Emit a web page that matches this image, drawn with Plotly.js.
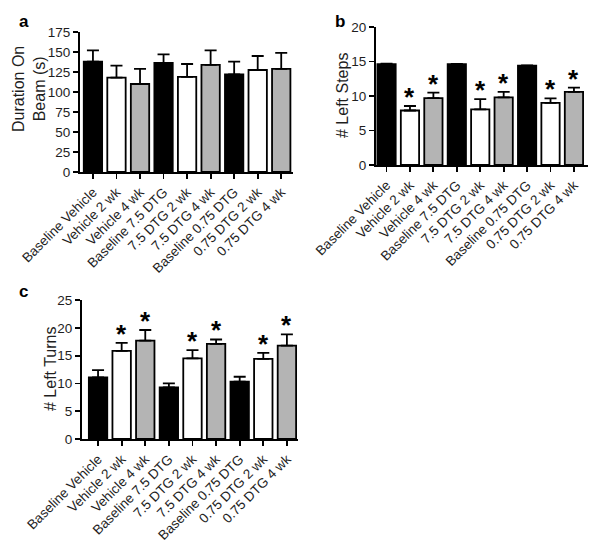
<!DOCTYPE html>
<html>
<head>
<meta charset="utf-8">
<script src="https://cdn.plot.ly/plotly-3.0.1.min.js"></script>
<style>html,body{margin:0;padding:0;background:#fff;}#chart{width:600px;height:545px;}</style>
</head>
<body>
<div id="chart"></div>
<script>
const categories = ["Baseline Vehicle","Vehicle 2 wk","Vehicle 4 wk","Baseline 7.5 DTG","7.5 DTG 2 wk","7.5 DTG 4 wk","Baseline 0.75 DTG","0.75 DTG 2 wk","0.75 DTG 4 wk"];
const durationValues = [138, 118, 110, 136.5, 119, 134, 122, 127.5, 129];
const durationErr    = [14, 15, 19, 10.5, 16, 18, 16, 17.5, 20];
const stepsValues = [14.6, 7.9, 9.7, 14.6, 8.05, 9.8, 14.4, 9.0, 10.6];
const stepsErr    = [0.1, 0.65, 0.8, 0.05, 1.5, 0.8, 0.05, 0.65, 0.6];
const stepsSig    = [0, 1, 1, 0, 1, 1, 0, 1, 1];
const turnsValues = [11.1, 15.85, 17.7, 9.3, 14.5, 17.1, 10.3, 14.4, 16.8];
const turnsErr    = [1.3, 1.45, 1.9, 0.7, 1.5, 0.8, 0.9, 1.1, 2.0];
const turnsSig    = [0, 1, 1, 0, 1, 1, 0, 1, 1];

const barColors = ["#000000","#ffffff","#b4b4b4","#000000","#ffffff","#b4b4b4","#000000","#ffffff","#b4b4b4"];
const FONT = "Liberation Sans, Arial, Helvetica, sans-serif";

function barTrace(vals, err, xa, ya) {
  return {
    type: "bar", x: categories, y: vals, xaxis: xa, yaxis: ya,
    width: 0.78,
    marker: {color: barColors, line: {color: "#000", width: 1.8}},
    error_y: {type: "data", symmetric: false, array: err, arrayminus: err.map(() => 0),
              color: "#000", thickness: 1.8, width: 6},
    hoverinfo: "skip", showlegend: false
  };
}

function xAxis(domain, range, anchor) {
  return {domain: domain, range: range, anchor: anchor, type: "category",
    showline: true, linewidth: 2, linecolor: "#000", ticks: "outside", ticklen: 5, tickwidth: 1.8, tickcolor: "#000",
    tickangle: -45, tickfont: {family: FONT, size: 13.5, color: "#1e1e1e"}, showgrid: false, zeroline: false};
}
function yAxis(domain, range, dtick, anchor) {
  return {domain: domain, range: range, dtick: dtick, anchor: anchor,
    showline: true, linewidth: 2, linecolor: "#000", ticks: "outside", ticklen: 5, tickwidth: 1.8, tickcolor: "#000",
    tickfont: {family: FONT, size: 13.5, color: "#1e1e1e"}, showgrid: false, zeroline: false};
}

const data = [
  barTrace(durationValues, durationErr, "x", "y"),
  barTrace(stepsValues, stepsErr, "x2", "y2"),
  barTrace(turnsValues, turnsErr, "x3", "y3")
];

const annotations = [];
function stars(vals, err, sig, xr, yr) {
  sig.forEach((s, i) => {
    if (s) annotations.push({x: categories[i], y: vals[i] + err[i], xref: xr, yref: yr,
      text: "<b>*</b>", showarrow: false, yanchor: "bottom", yshift: -8,
      font: {family: FONT, size: 26, color: "#000"}});
  });
}
stars(stepsValues, stepsErr, stepsSig, "x2", "y2");
stars(turnsValues, turnsErr, turnsSig, "x3", "y3");

function paperY(px) { return 1 - px / 545; }
function paperX(px) { return px / 600; }

// panel letters
[["a", 17, 10], ["b", 333, 10], ["c", 17, 280]].forEach(l => {
  annotations.push({text: "<b>" + l[0] + "</b>", xref: "paper", yref: "paper", x: paperX(l[1]), y: paperY(l[2]),
    xanchor: "left", yanchor: "top", showarrow: false, font: {family: FONT, size: 17, color: "#000"}});
});
// axis titles
[["Duration On<br>Beam (s)", 29, 89], ["# Left Steps", 342, 95], ["# Left Turns", 50, 369]].forEach(t => {
  annotations.push({text: t[0], xref: "paper", yref: "paper", x: paperX(t[1]), y: paperY(t[2]),
    xanchor: "center", yanchor: "middle", textangle: -90, showarrow: false,
    font: {family: FONT, size: 16, color: "#1e1e1e"}});
});

const layout = {
  width: 600, height: 545,
  margin: {l: 0, r: 0, t: 0, b: 0},
  paper_bgcolor: "#fff", plot_bgcolor: "#fff",
  bargap: 0.2,
  xaxis: xAxis([80/600, 293/600], [-0.55, 8.5], "y"),
  yaxis: yAxis([1 - 172/545, 1 - 32/545], [0, 175], 25, "x"),
  xaxis2: xAxis([376/600, 588/600], [-0.45, 8.6], "y2"),
  yaxis2: yAxis([1 - 165/545, 1 - 27/545], [0, 20], 5, "x2"),
  xaxis3: xAxis([82/600, 298/600], [-0.68, 8.47], "y3"),
  yaxis3: yAxis([1 - 439/545, 1 - 300/545], [0, 25], 5, "x3"),
  annotations: annotations,
  font: {family: FONT}
};

Plotly.newPlot("chart", data, layout, {displayModeBar: false, staticPlot: true});
</script>
</body>
</html>
